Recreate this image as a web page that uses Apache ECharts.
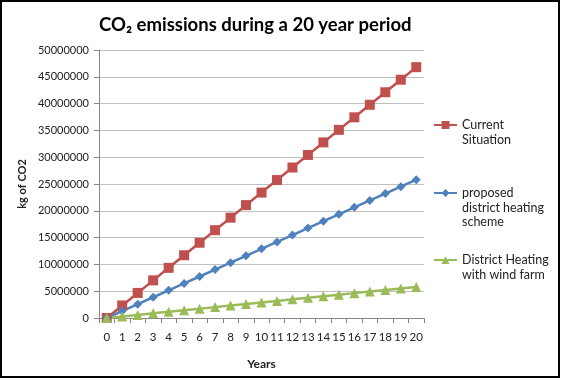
<!DOCTYPE html>
<html><head><meta charset="utf-8">
<script src="https://cdn.jsdelivr.net/npm/echarts@6/dist/echarts.min.js"></script>
<style>
html,body{margin:0;padding:0;background:#fff;}
#frame{position:absolute;left:0;top:0;width:556px;height:374px;border:2px solid #000;background:#fff;}
#c{position:absolute;left:0;top:0;width:556px;height:374px;}
</style></head>
<body><div id="frame"><div id="c"></div></div>
<script>
var years = ['0','1','2','3','4','5','6','7','8','9','10','11','12','13','14','15','16','17','18','19','20'];
var currentSituation = [0,2340000,4680000,7020000,9360000,11700000,14040000,16380000,18720000,21060000,23400000,25740000,28080000,30420000,32760000,35100000,37440000,39780000,42120000,44460000,46800000];
var proposedScheme = [0,1290000,2580000,3870000,5160000,6450000,7740000,9030000,10320000,11610000,12900000,14190000,15480000,16770000,18060000,19350000,20640000,21930000,23220000,24510000,25800000];
var windFarm = [0,290000,580000,870000,1160000,1450000,1740000,2030000,2320000,2610000,2900000,3190000,3480000,3770000,4060000,4350000,4640000,4930000,5220000,5510000,5800000];
var seriesNames = ['Current Situation','proposed district heating scheme','District Heating with wind farm'];
var legendLines = [['Current','Situation'],['proposed','district heating','scheme'],['District Heating','with wind farm']];

var font = 'Lato, "Open Sans", sans-serif';
var LH = 14.5;
var chart = echarts.init(document.getElementById('c'));
function mkLegend(i, iconY){
  var lines = legendLines[i];
  var pad = [];
  for (var k = 0; k < lines.length - 1; k++) pad.push('\u00a0');
  var txt = pad.concat(lines).join('\n');
  var total = (2 * lines.length - 1) * LH;
  return {
    data:[seriesNames[i]], orient:'vertical', left:431, top:iconY - total / 2,
    itemWidth:23, itemHeight:10, itemGap:0, padding:0,
    formatter:function(){return txt;},
    textStyle:{fontFamily:font, fontSize:12.5, color:'#222', lineHeight:LH}
  };
}
chart.setOption({
  animation:false,
  title:{text:'CO₂ emissions during a 20 year period', left:92, top:9,
    textStyle:{fontFamily:font, fontSize:18.5, fontWeight:'bold', color:'#000'}},
  legend:[mkLegend(0,123), mkLegend(1,191), mkLegend(2,258)],
  grid:{left:97, top:48, width:325, height:268, containLabel:false},
  xAxis:{type:'category', data:years, boundaryGap:true, name:'Years', nameLocation:'middle', nameGap:40,
    nameMoveOverlap:false,
    nameTextStyle:{fontFamily:font, fontSize:12, fontWeight:'bold', color:'#222'},
    axisLine:{lineStyle:{color:'#868686', width:1}},
    axisTick:{show:true, length:5, interval:0, lineStyle:{color:'#868686'}},
    axisLabel:{fontFamily:font, fontSize:11.5, color:'#222', interval:0, margin:13}},
  yAxis:{type:'value', min:0, max:50000000, interval:5000000, name:'kg of CO2', nameLocation:'middle', nameGap:71,
    nameMoveOverlap:false,
    nameTextStyle:{fontFamily:font, fontSize:11, fontWeight:'bold', color:'#222'},
    axisLine:{show:true, lineStyle:{color:'#868686'}},
    axisTick:{show:true, length:5, lineStyle:{color:'#868686'}},
    splitLine:{lineStyle:{color:'#bfbfbf', width:1}},
    axisLabel:{fontFamily:font, fontSize:11, color:'#222', margin:10, formatter:function(v){return String(v);}}},
  series:[
    {name:seriesNames[0], type:'line', data:currentSituation, symbol:'rect', symbolSize:10,
      lineStyle:{color:'#C0504D', width:2.5}, itemStyle:{color:'#C0504D'}},
    {name:seriesNames[1], type:'line', data:proposedScheme, symbol:'diamond', symbolSize:9,
      lineStyle:{color:'#4F81BD', width:2.5}, itemStyle:{color:'#4F81BD'}},
    {name:seriesNames[2], type:'line', data:windFarm, symbol:'triangle', symbolSize:10,
      lineStyle:{color:'#9BBB59', width:2.5}, itemStyle:{color:'#9BBB59'}}
  ]
});
</script></body></html>
